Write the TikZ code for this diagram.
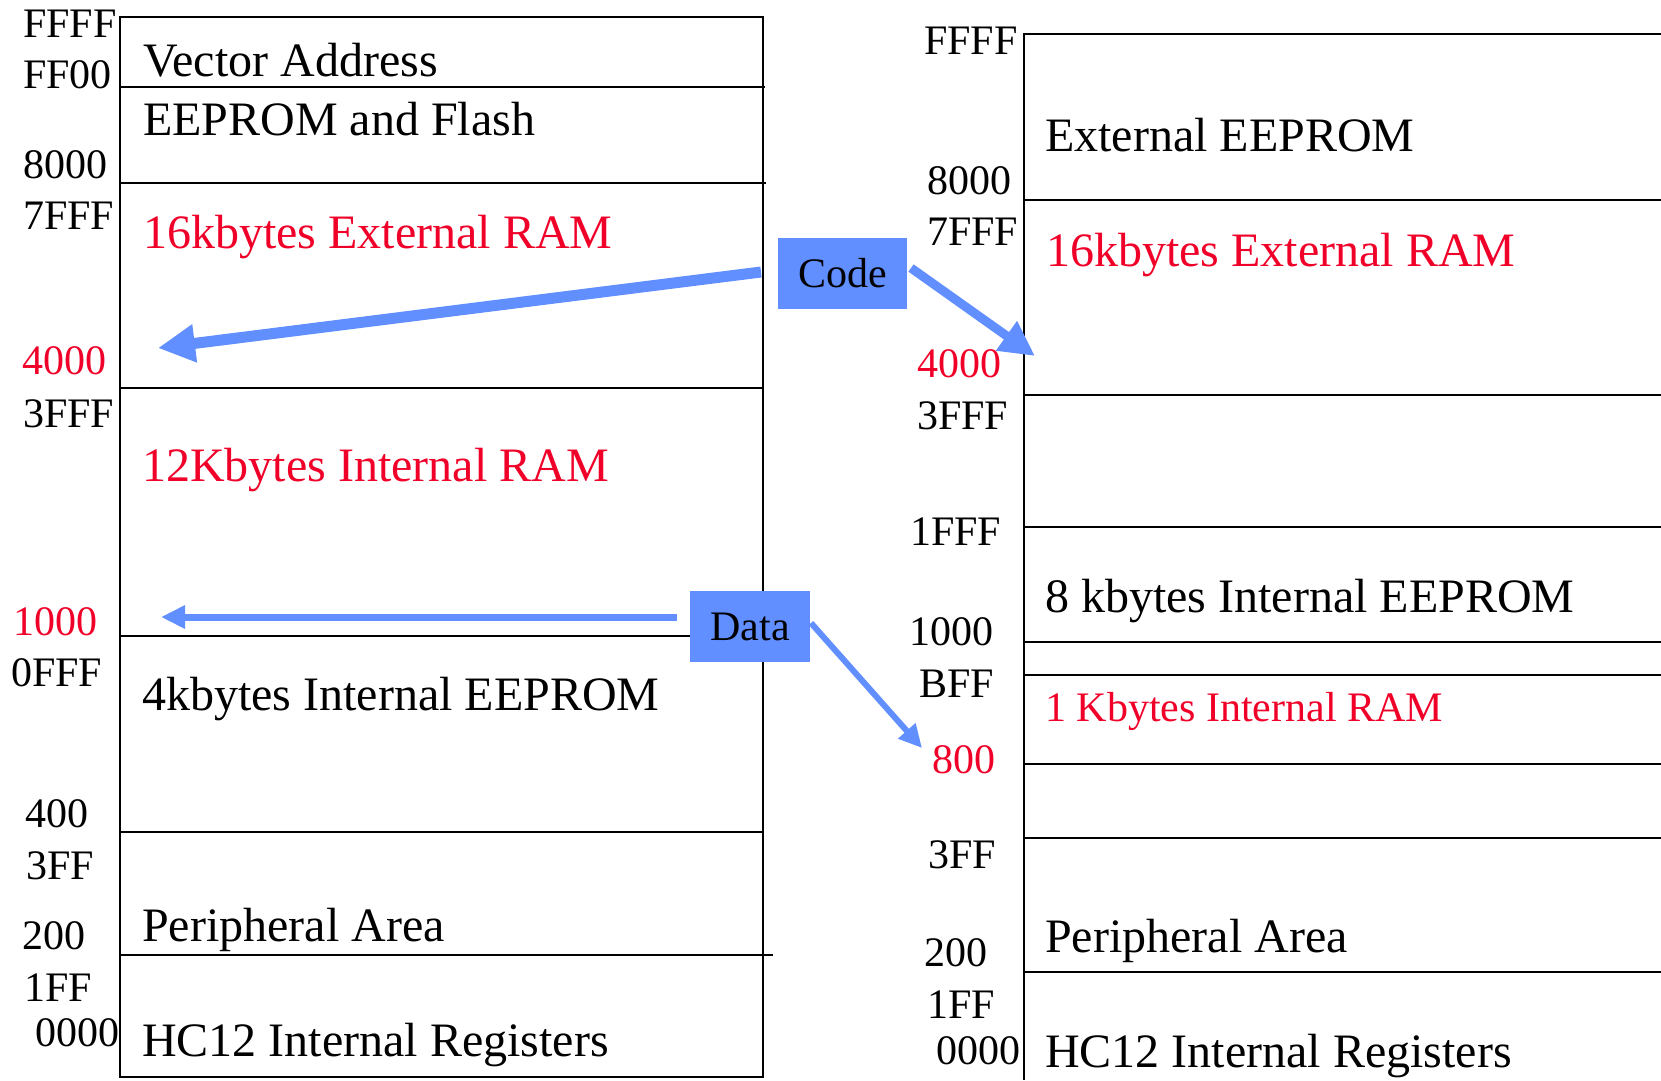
\documentclass[tikz,border=0pt]{standalone}
\usepackage{fontspec}
\setmainfont{Liberation Serif}
\usetikzlibrary{arrows.meta}
\definecolor{memred}{RGB}{240,0,40}
\definecolor{memblue}{RGB}{97,143,255}

\begin{document}
\begin{tikzpicture}[x=1pt,y=-1pt,
  wall/.style={line width=2.5pt},
  addr/.style={anchor=base west,inner sep=0pt,font=\fontsize{42}{42}\selectfont},
  area/.style={anchor=base west,inner sep=0pt,font=\fontsize{48}{48}\selectfont},
  smallarea/.style={anchor=base west,inner sep=0pt,font=\fontsize{42}{42}\selectfont},
  hot/.style={text=memred},
  tag/.style={fill=memblue,inner sep=0pt,font=\fontsize{42}{42}\selectfont},
  flow/.style={draw=memblue,fill=memblue}]
\useasboundingbox (0,0) rectangle (1661,1080);

% ---------------- left memory map ----------------
\draw[wall] (120,17) rectangle (763,1077);
\draw[wall] (120,87)  -- (765,87);
\draw[wall] (120,183) -- (766,183);
\draw[wall] (120,388) -- (763,388);
\draw[wall] (120,636) -- (763,636);
\draw[wall] (120,832) -- (764,832);
\draw[wall] (120,955) -- (773,955);

\node[addr] (lffff) at (23,37)   {FFFF};
\node[addr] (lff00) at (23,88)   {FF00};
\node[addr] (l8000) at (23,178)  {8000};
\node[addr] (l7fff) at (23,229)  {7FFF};
\node[addr,hot] (l4000) at (22,374) {4000};
\node[addr] (l3fff) at (23,427)  {3FFF};
\node[addr,hot] (l1000) at (13,635) {1000};
\node[addr] (l0fff) at (11,686)  {0FFF};
\node[addr] (l400)  at (25,827)  {400};
\node[addr] (l3ff)  at (26,879)  {3FF};
\node[addr] (l200)  at (22,949)  {200};
\node[addr] (l1ff)  at (24,1001) {1FF};
\node[addr] (l0000) at (35,1046) {0000};

\node[area] (lvec)  at (143,76)   {Vector Address};
\node[area] (lfl)   at (143,135)  {EEPROM and Flash};
\node[area,hot] (lxram) at (143,248) {16kbytes External RAM};
\node[area,hot] (liram) at (142,481) {12Kbytes Internal RAM};
\node[area] (lee)   at (142,710)  {4kbytes Internal EEPROM};
\node[area] (lper)  at (142,941)  {Peripheral Area};
\node[area] (lreg)  at (142,1056) {HC12 Internal Registers};

% ---------------- right memory map ----------------
\draw[wall] (1661,34) -- (1024,34) -- (1024,1080);
\foreach \y in {200,395,527,642,675,764,838,972}
  \draw[wall] (1024,\y) -- (1661,\y);

\node[addr] (rffff) at (924,54)   {FFFF};
\node[addr] (r8000) at (927,194)  {8000};
\node[addr] (r7fff) at (927,245)  {7FFF};
\node[addr,hot] (r4000) at (917,377) {4000};
\node[addr] (r3fff) at (917,429)  {3FFF};
\node[addr] (r1fff) at (910,545)  {1FFF};
\node[addr] (r1000) at (909,645)  {1000};
\node[addr] (rbff)  at (919,697)  {BFF};
\node[addr,hot] (r800) at (932,773) {800};
\node[addr] (r3ff)  at (928,868)  {3FF};
\node[addr] (r200)  at (924,966)  {200};
\node[addr] (r1ff)  at (927,1018) {1FF};
\node[addr] (r0000) at (936,1064) {0000};

\node[area] (rxee)  at (1045,151)  {External EEPROM};
\node[area,hot] (rxram) at (1046,266) {16kbytes External RAM};
\node[area] (ree)   at (1045,612)  {8 kbytes Internal EEPROM};
\node[smallarea,hot] (riram) at (1045,721) {1 Kbytes Internal RAM};
\node[area] (rper)  at (1045,952)  {Peripheral Area};
\node[area] (rreg)  at (1045,1067) {HC12 Internal Registers};

% ---------------- code / data labels and arrows ----------------
\node[tag,minimum width=129pt,minimum height=71pt] (code) at (842.5,273.5) {Code};
\node[tag,minimum width=120pt,minimum height=71pt] (data) at (750,626.5) {Data};

\coordinate (codeL)  at (761,272);
\coordinate (codeLt) at (158,348);
\coordinate (codeR)  at (911,268);
\coordinate (codeRt) at (1035,356);
\coordinate (dataL)  at (677,617);
\coordinate (dataLt) at (161,617);
\coordinate (dataR)  at (811,623);
\coordinate (dataRt) at (922,748);

\draw[flow,line width=11pt,-{Triangle[length=37pt,width=36pt]}] (codeL) -- (codeLt);
\draw[flow,line width=9pt,-{Triangle[length=35pt,width=34pt]}] (codeR) -- (codeRt);
\draw[flow,line width=7pt,-{Triangle[length=24pt,width=22pt]}] (dataL) -- (dataLt);
\draw[flow,line width=6pt,-{Triangle[length=23pt,width=22pt]}] (dataR) -- (dataRt);
\end{tikzpicture}
\end{document}
